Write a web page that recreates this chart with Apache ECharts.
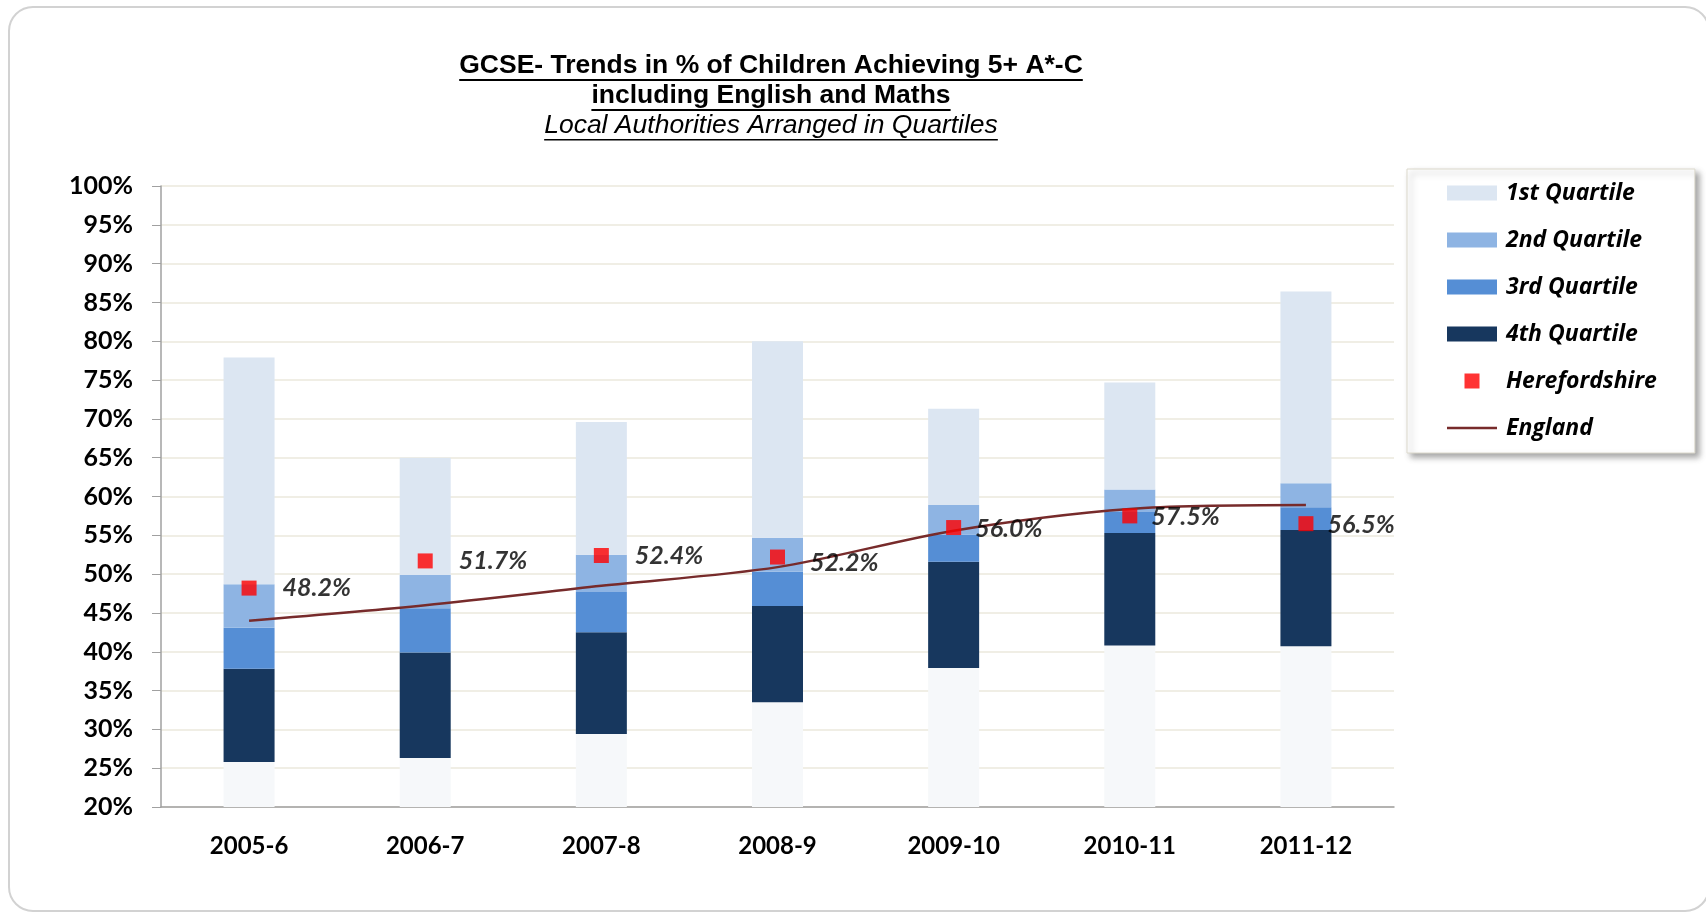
<!DOCTYPE html>
<html>
<head>
<meta charset="utf-8">
<title>GCSE trends by quartile</title>
<script src="https://cdn.jsdelivr.net/npm/echarts@6/dist/echarts.min.js"></script>
<style>
  html, body { margin: 0; padding: 0; background: #fff; }
  #chart { width: 1706px; height: 915px; }
</style>
</head>
<body>
<div id="chart"></div>
<script>
// years on the x axis
const years = ['2005-6', '2006-7', '2007-8', '2008-9', '2009-10', '2010-11', '2011-12'];

// quartile boundaries, % of children
const lowest  = [25.8, 26.3, 29.4, 33.5, 37.9, 40.8, 40.7];
const q4Top   = [37.8, 39.9, 42.5, 45.9, 51.6, 55.3, 55.7];
const q3Top   = [43.1, 45.6, 47.7, 50.3, 55.1, 58.0, 58.6];
const q2Top   = [48.7, 49.9, 52.5, 54.7, 58.9, 60.9, 61.7];
const highest = [77.9, 65.0, 69.6, 80.0, 71.3, 74.7, 86.4];

const herefordshire = [48.2, 51.7, 52.4, 52.2, 56.0, 57.5, 56.5];
const england       = [44.0, 46.0, 48.5, 50.9, 55.6, 58.4, 58.9];

const titleLines = [
  'GCSE- Trends in % of Children Achieving 5+ A*-C',
  'including English and Maths',
  'Local Authorities Arranged in Quartiles'
];

// stacked segment = upper boundary - lower boundary
function diff(lo, hi) {
  return hi.map((v, i) => +(v - lo[i]).toFixed(2));
}

const LABEL_FONT = 'Lato';
const LEGEND_FONT = 'Open Sans';

// measure title text so the underlines fit
const ctx = document.createElement('canvas').getContext('2d');
function textWidth(txt, font) {
  ctx.font = font;
  return ctx.measureText(txt).width;
}

const titleFonts = [
  'bold 26.5px "Liberation Sans"',
  'bold 26.5px "Liberation Sans"',
  'italic 26.5px "Liberation Sans"'
];
const titleY = [66, 96, 126];
const titleX = 771;

const graphics = [
  {
    type: 'rect', silent: true, z: -10,
    shape: { x: 9, y: 7, width: 1700, height: 904, r: 24 },
    style: { fill: 'none', stroke: '#d2d2d2', lineWidth: 2 }
  }
];
titleLines.forEach((t, i) => {
  const w = textWidth(t, titleFonts[i]);
  graphics.push({
    type: 'text', x: titleX, y: titleY[i],
    style: {
      text: t, font: titleFonts[i], fill: '#000',
      align: 'center', verticalAlign: 'middle',
      textAlign: 'center', textVerticalAlign: 'middle'
    }
  });
  graphics.push({
    type: 'rect',
    shape: { x: titleX - w / 2, y: titleY[i] + 13, width: w, height: i < 2 ? 2 : 1.5 },
    style: { fill: '#000' }
  });
});

function barSeries(name, data, color) {
  return {
    name: name,
    type: 'bar',
    stack: 'q',
    barWidth: 51,
    data: data,
    itemStyle: { color: color },
    emphasis: { disabled: true }
  };
}

const option = {
  animation: false,
  backgroundColor: '#fff',
  graphic: graphics,
  grid: { left: 161, right: 312, top: 186, bottom: 108 },
  legend: {
    orient: 'vertical',
    left: 1407,
    top: 169,
    selectedMode: false,
    itemWidth: 50,
    itemHeight: 15,
    itemGap: 21,
    padding: [11, 38, 12, 40],
    backgroundColor: '#fff',
    borderColor: '#dcd9cc',
    borderWidth: 1,
    shadowColor: 'rgba(0,0,0,0.35)',
    shadowBlur: 6,
    shadowOffsetX: 4,
    shadowOffsetY: 4,
    textStyle: {
      fontFamily: LEGEND_FONT, fontStyle: 'italic', fontWeight: 'bold',
      fontSize: 23, color: '#000', lineHeight: 26, padding: [0, 0, 0, 4]
    },
    data: [
      { name: '1st Quartile', icon: 'rect' },
      { name: '2nd Quartile', icon: 'rect' },
      { name: '3rd Quartile', icon: 'rect' },
      { name: '4th Quartile', icon: 'rect' },
      { name: 'Herefordshire', icon: 'path://M0,0L1,0L1,1L0,1Z' },
      { name: 'England', icon: 'path://M0,0L50,0L50,2.5L0,2.5Z' }
    ]
  },
  xAxis: {
    type: 'category',
    data: years,
    axisLine: { lineStyle: { color: '#a0a0a0', width: 1.5 } },
    axisTick: { length: 8, lineStyle: { color: '#a0a0a0' } },
    axisLabel: {
      margin: 27,
      fontFamily: LABEL_FONT, fontWeight: 'bold', fontSize: 24, color: '#000'
    }
  },
  yAxis: {
    type: 'value',
    min: 20,
    max: 100,
    interval: 5,
    axisLine: { show: true, lineStyle: { color: '#a0a0a0', width: 1.5 } },
    axisTick: { show: true, length: 9, lineStyle: { color: '#a0a0a0' } },
    splitLine: { lineStyle: { color: '#ebe8dd', width: 1.5 } },
    axisLabel: {
      margin: 28,
      formatter: '{value}%',
      fontFamily: LABEL_FONT, fontWeight: 'bold', fontSize: 25, color: '#000'
    }
  },
  series: [
    barSeries('base', lowest, '#f6f8fa'),
    barSeries('4th Quartile', diff(lowest, q4Top), '#17375e'),
    barSeries('3rd Quartile', diff(q4Top, q3Top), '#558ed5'),
    barSeries('2nd Quartile', diff(q3Top, q2Top), '#8eb4e3'),
    barSeries('1st Quartile', diff(q2Top, highest), '#dce6f2'),
    {
      name: 'England',
      type: 'line',
      data: england,
      smooth: 0.3,
      symbol: 'none',
      lineStyle: { color: '#772b2b', width: 2.5 },
      itemStyle: { color: '#772b2b' },
      z: 3
    },
    {
      name: 'Herefordshire',
      type: 'scatter',
      symbol: 'rect',
      symbolSize: 15,
      itemStyle: { color: '#ff0000' },
      z: 4,
      label: {
        show: true,
        position: 'right',
        distance: 18,
        formatter: p => p.value.toFixed(1) + '%',
        fontFamily: LABEL_FONT, fontStyle: 'italic', fontWeight: 'bold',
        fontSize: 25, color: '#000'
      },
      data: herefordshire.map((v, i) => ({
        value: v,
        label: { offset: i === 3 ? [7, 6] : (i < 3 ? [8, 0] : [-4, 1]) }
      }))
    }
  ]
};

const chart = echarts.init(document.getElementById('chart'));
chart.setOption(option);
</script>
</body>
</html>
